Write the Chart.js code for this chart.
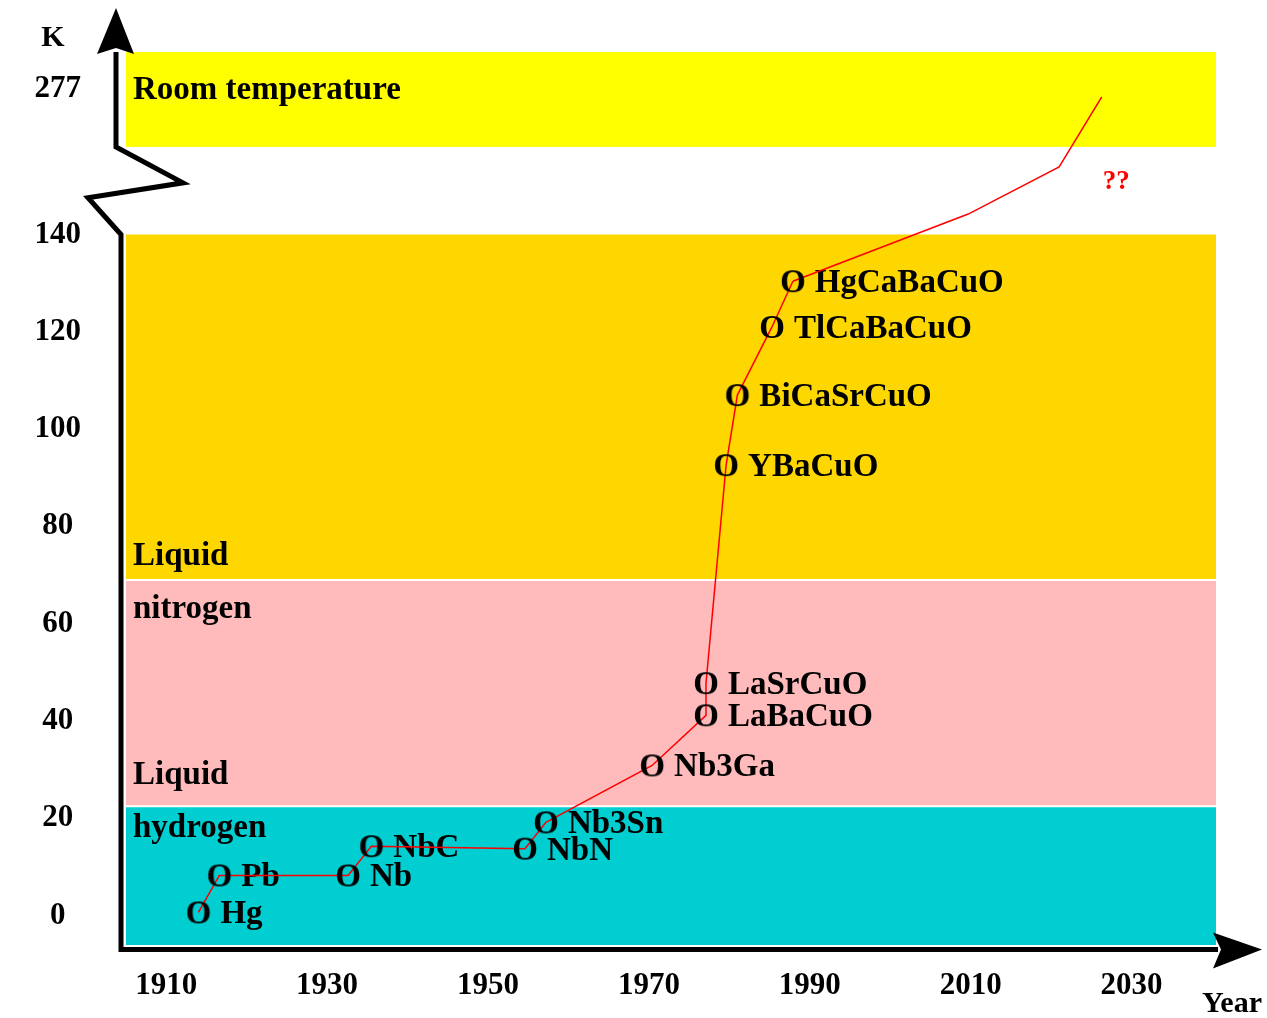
<!DOCTYPE html>
<html>
<head>
<meta charset="utf-8">
<title>Superconductor critical temperatures</title>
<script src="https://cdn.jsdelivr.net/npm/chart.js@4.4.1/dist/chart.umd.min.js"></script>
<style>
  html, body { margin: 0; padding: 0; background: #fff; }
  #wrap { width: 1267px; height: 1018px; }
</style>
</head>
<body>
<div id="wrap"><canvas id="tcChart" width="1267" height="1018"></canvas></div>
<script>
// values (x: year, y: kelvin; above 140 K the axis is broken)
const materials = ['Hg', 'Pb', 'Nb', 'NbC', 'NbN', 'Nb3Sn', 'Nb3Ga', 'LaBaCuO', 'LaSrCuO', 'YBaCuO', 'BiCaSrCuO', 'TlCaBaCuO', 'HgCaBaCuO'];
const years = [1914.0, 1916.6, 1932.6, 1935.5, 1954.6, 1957.2, 1970.4, 1977.1, 1977.1, 1979.6, 1981.0, 1985.3, 1987.9];
const tcKelvin = [0.7, 8.3, 8.3, 14.3, 13.8, 19.2, 30.9, 41.2, 47.8, 92.6, 107.0, 121.0, 130.4];

// the guessed continuation up to room temperature
const futureYears = [1987.9, 2009.7, 2021.0, 2026.3];
const futureKelvin = [130.4, 144.2, 153.9, 168.3];

const xTicks = [1910, 1930, 1950, 1970, 1990, 2010, 2030];
const yTicks = [0, 20, 40, 60, 80, 100, 120, 140, 170];
const yTickLabels = ['0', '20', '40', '60', '80', '100', '120', '140', '277'];

// coloured temperature bands (kelvin)
const bandLow = [-6, 22.5, 69, 158];
const bandHigh = [22.5, 69, 140, 177.5];
const bandLabels = [['Room temperature'], ['Liquid', 'nitrogen'], ['Liquid', 'hydrogen']];
const bandLabelAt = [170, 69, 24];

const bandColors = ['#00CED1', '#FFBBBB', '#FFD700', '#FFFF00'];
const FONT = "'Liberation Serif', 'Times New Roman', serif";
const labelFont = 'bold 33px ' + FONT;

// "O" glyph used as the point marker
function makeRing() {
  const c = document.createElement('canvas');
  c.width = 30; c.height = 30;
  const g = c.getContext('2d');
  g.font = labelFont;
  g.fillStyle = '#000';
  g.textAlign = 'center';
  g.textBaseline = 'alphabetic';
  g.fillText('O', 15, 26);
  return c;
}
const ring = makeRing();

const bandPlugin = {
  id: 'bands',
  beforeDatasetsDraw(chart) {
    const { ctx, chartArea: a, scales: { x, y } } = chart;
    ctx.save();
    bandLow.forEach((lo, i) => {
      const top = y.getPixelForValue(bandHigh[i]);
      const bottom = y.getPixelForValue(lo);
      ctx.fillStyle = bandColors[i];
      ctx.fillRect(a.left, top, a.right - a.left, bottom - top);
    });
    // white seams between bands
    ctx.strokeStyle = '#fff';
    ctx.lineWidth = 2;
    [bandLow[1], bandLow[2]].forEach(v => {
      const py = y.getPixelForValue(v);
      ctx.beginPath(); ctx.moveTo(a.left, py); ctx.lineTo(a.right, py); ctx.stroke();
    });

    ctx.fillStyle = '#000';
    ctx.font = labelFont;
    ctx.textAlign = 'left';
    ctx.textBaseline = 'alphabetic';
    bandLabels.forEach((lines, i) => {
      const yc = y.getPixelForValue(bandLabelAt[i]);
      const offs = lines.length === 1 ? [0] : [-26, 27];
      lines.forEach((t, j) => ctx.fillText(t, a.left + 7, yc + offs[j] + 11));
    });

    // material names next to their markers
    const pts = chart.getDatasetMeta(0).data;
    pts.forEach((p, i) => ctx.fillText(materials[i], p.x + 22, p.y + 11));
    ctx.restore();
  }
};

const axisPlugin = {
  id: 'axes',
  afterDraw(chart) {
    const { ctx, chartArea: a, scales: { x, y } } = chart;
    const breakLow = y.getPixelForValue(140);
    const breakHigh = y.getPixelForValue(158);
    const gap = breakLow - breakHigh;
    const base = a.bottom + 4.5;
    const topX = a.left - 10;
    ctx.save();
    ctx.strokeStyle = '#000';
    ctx.fillStyle = '#000';
    ctx.lineWidth = 5;
    ctx.lineJoin = 'miter';
    ctx.beginPath();
    ctx.moveTo(a.right + 2, base);
    ctx.lineTo(a.left - 5, base);
    ctx.lineTo(a.left - 5, breakLow);
    ctx.lineTo(a.left - 38, breakLow - gap * 0.42);
    ctx.lineTo(a.left + 57, breakLow - gap * 0.59);
    ctx.lineTo(topX, breakHigh);
    ctx.lineTo(topX, a.top);
    ctx.stroke();

    // arrow heads
    ctx.beginPath();
    ctx.moveTo(topX, a.top - 44);
    ctx.lineTo(topX - 19, a.top + 2);
    ctx.lineTo(topX, a.top - 4);
    ctx.lineTo(topX + 18, a.top + 2);
    ctx.closePath();
    ctx.fill();

    ctx.beginPath();
    ctx.moveTo(a.right + 46, base);
    ctx.lineTo(a.right - 3, base - 17);
    ctx.lineTo(a.right + 5, base);
    ctx.lineTo(a.right - 3, base + 19);
    ctx.closePath();
    ctx.fill();

    ctx.font = 'bold 30px ' + FONT;
    ctx.textAlign = 'center';
    ctx.textBaseline = 'middle';
    ctx.fillText('K', a.left - 73, a.top - 14);
    ctx.fillText('Year', a.right + 16, a.bottom + 59);

    ctx.fillStyle = '#FF0000';
    ctx.font = 'bold 27px ' + FONT;
    ctx.fillText('??', x.getPixelForValue(2028.1), y.getPixelForValue(150.8));
    ctx.restore();
  }
};

const tickFont = { family: FONT, size: 31, weight: 'bold' };

new Chart(document.getElementById('tcChart'), {
  type: 'line',
  data: {
    datasets: [
      {
        label: 'Tc',
        data: years.map((yr, i) => ({ x: yr, y: tcKelvin[i] })),
        borderColor: '#FF0000',
        borderWidth: 1.5,
        pointStyle: ring,
        pointRadius: 12,
        tension: 0,
        fill: false,
        clip: false
      },
      {
        label: 'future',
        data: futureYears.map((yr, i) => ({ x: yr, y: futureKelvin[i] })),
        borderColor: '#FF0000',
        borderWidth: 1.5,
        pointRadius: 0,
        tension: 0,
        fill: false,
        clip: false
      }
    ]
  },
  options: {
    responsive: false,
    animation: false,
    events: [],
    layout: { padding: { top: 52, right: 51, left: 0, bottom: 0 } },
    plugins: { legend: { display: false }, tooltip: { enabled: false } },
    scales: {
      x: {
        type: 'linear',
        min: 1905,
        max: 2040.5,
        grid: { display: false },
        border: { display: false },
        afterBuildTicks: ax => { ax.ticks = xTicks.map(v => ({ value: v })); },
        afterFit: ax => { ax.height = 73; ax.paddingLeft = 0; ax.paddingRight = 0; },
        ticks: {
          font: tickFont, color: '#000', padding: 14,
          maxRotation: 0, autoSkip: false,
          callback: v => String(v)
        }
      },
      y: {
        type: 'linear',
        min: -6,
        max: 177.5,
        grid: { display: false },
        border: { display: false },
        afterBuildTicks: ax => { ax.ticks = yTicks.map(v => ({ value: v })); },
        afterFit: ax => { ax.width = 126; ax.paddingTop = 0; ax.paddingBottom = 0; },
        ticks: {
          font: tickFont, color: '#000', padding: 37,
          crossAlign: 'center', autoSkip: false,
          callback: (v, i) => yTickLabels[i]
        }
      }
    }
  },
  plugins: [bandPlugin, axisPlugin]
});
</script>
</body>
</html>
